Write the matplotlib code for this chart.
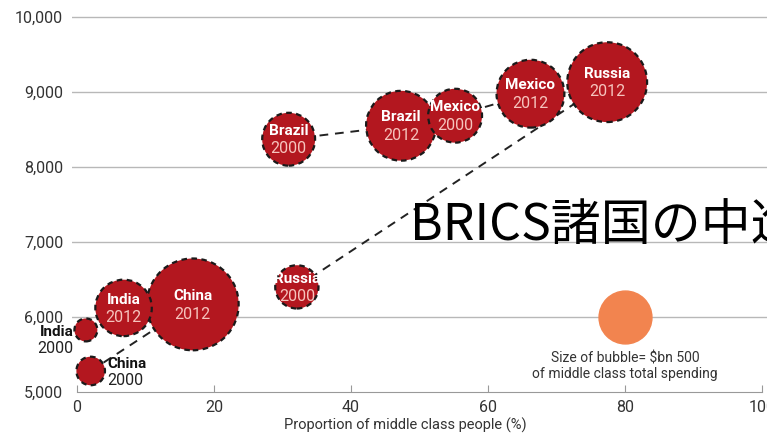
import matplotlib.pyplot as plt
import numpy as np

# bubble data
countries = ['India', 'China', 'India', 'China', 'Russia', 'Brazil', 'Brazil', 'Mexico', 'Mexico', 'Russia']
years = ['2000', '2000', '2012', '2012', '2000', '2000', '2012', '2000', '2012', '2012']
middle_pct = [1.3, 2.0, 6.8, 16.9, 32.1, 30.9, 47.3, 55.2, 66.2, 77.4]
gdp_pc = [5826, 5278, 6120, 6167, 6401, 8372, 8552, 8686, 8980, 9134]
spending = [94, 146, 570, 1507, 335, 500, 872, 519, 823, 1139]

legend_x, legend_y, legend_value = 80, 6000, 500
x_ticks = [0, 20, 40, 60, 80, 100]
y_ticks = [5000, 6000, 7000, 8000, 9000, 10000]

RED = '#b3171f'
PINK = '#f6c4bd'
ORANGE = '#f2844f'
SCALE = 2.9  # marker area per $bn

plt.rcParams['font.family'] = ['Roboto', 'DejaVu Sans']

fig = plt.figure(figsize=(7.67, 4.37), dpi=100)
ax = fig.add_axes([71.5 / 767, 1 - 391.8 / 437, 1 - 71.5 / 767, 382 / 437])
ax.set_xlim(-0.8, 100.73)
ax.set_ylim(5000, 10100)

for yv in y_ticks[1:]:
    ax.axhline(yv, color='#b8b8b8', lw=1, zorder=0)

# dashed connectors 2000 -> 2012
for c in ['India', 'China', 'Russia', 'Brazil', 'Mexico']:
    i0 = [i for i in range(len(countries)) if countries[i] == c and years[i] == '2000'][0]
    i1 = [i for i in range(len(countries)) if countries[i] == c and years[i] == '2012'][0]
    ax.plot([middle_pct[i0], middle_pct[i1]], [gdp_pc[i0], gdp_pc[i1]],
            color='#222222', lw=1.4, ls=(0, (4.5, 3.5)), zorder=1)

order = np.argsort(spending)[::-1]
ax.scatter(np.array(middle_pct)[order], np.array(gdp_pc)[order],
           s=np.array(spending)[order] * SCALE, color=RED, edgecolor='#1a1a1a',
           linewidth=1.6, linestyle=(0, (2.5, 2)), zorder=2)

for i in range(len(countries)):
    if spending[i] < 200:
        continue
    ax.annotate(countries[i], (middle_pct[i], gdp_pc[i]), xytext=(0, 6), textcoords='offset points',
                ha='center', va='center', color='white', fontsize=11, fontweight='bold', zorder=3)
    ax.annotate(years[i], (middle_pct[i], gdp_pc[i]), xytext=(0, -7), textcoords='offset points',
                ha='center', va='center', color=PINK, fontsize=11.5, zorder=3)

# small bubbles are labelled outside
ax.annotate('India', (middle_pct[0], gdp_pc[0]), xytext=(-9, -1.5), textcoords='offset points',
            ha='right', va='center', fontsize=11, fontweight='bold', color='#111111')
ax.annotate('2000', (middle_pct[0], gdp_pc[0]), xytext=(-9, -13.5), textcoords='offset points',
            ha='right', va='center', fontsize=11.5, color='#222222')
ax.annotate('China', (middle_pct[1], gdp_pc[1]), xytext=(12, 5), textcoords='offset points',
            ha='left', va='center', fontsize=11, fontweight='bold', color='#111111')
ax.annotate('2000', (middle_pct[1], gdp_pc[1]), xytext=(12, -7), textcoords='offset points',
            ha='left', va='center', fontsize=11.5, color='#222222')

# size legend
ax.scatter([legend_x], [legend_y], s=legend_value * SCALE, color=ORANGE, zorder=2)
ax.text(legend_x, 5540, 'Size of bubble= $bn 500\nof middle class total spending',
        ha='center', va='top', fontsize=10, color='#333333', linespacing=1.15)

ax.set_xticks(x_ticks)
ax.set_yticks(y_ticks)
ax.set_yticklabels(['{:,}'.format(v) for v in y_ticks])
ax.tick_params(axis='x', direction='in', length=5, color='#999999', labelsize=11.5,
               labelcolor='#333333', pad=6)
ax.tick_params(axis='y', length=0, labelsize=11.5, labelcolor='#333333', pad=6)
for s in ['left', 'right', 'top']:
    ax.spines[s].set_visible(False)
ax.spines['bottom'].set_color('#999999')
ax.spines['bottom'].set_bounds(0, 100)

fig.text(405 / 767, 1 - 425 / 437, 'Proportion of middle class people (%)',
         ha='center', va='center', fontsize=10.5, color='#333333')

fig.text(410 / 767, 1 - 240 / 437, 'BRICS諸国の中進国', ha='left', va='baseline',
         fontsize=36, color='black', family=['Noto Sans CJK JP', 'DejaVu Sans'])

fig.savefig('out.png', dpi=100)
